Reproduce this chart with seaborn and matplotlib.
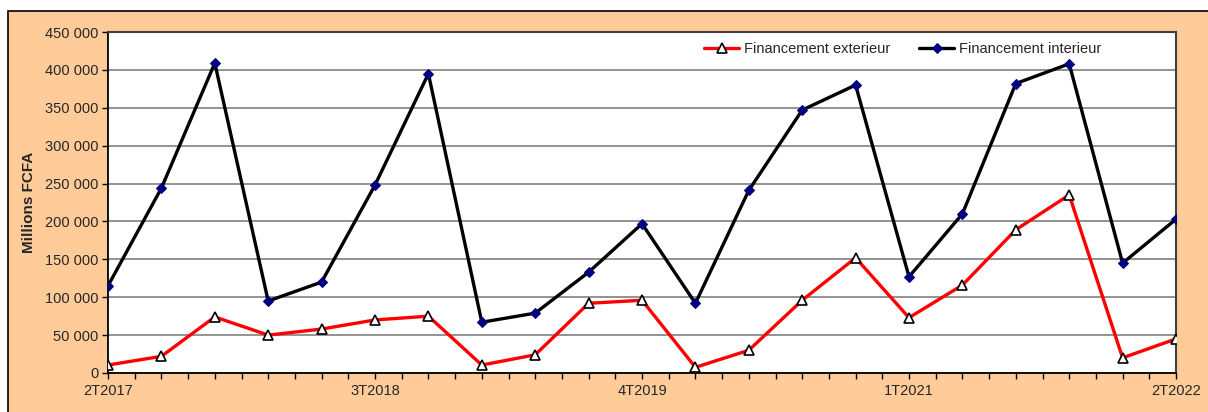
import numpy as np
import pandas as pd
import seaborn as sns
import matplotlib.pyplot as plt
from matplotlib.patches import Rectangle
from matplotlib.ticker import FuncFormatter, MultipleLocator

# Données (millions FCFA), trimestres 2T2017 -> 2T2022
trimestres = ['2T2017', '3T2017', '4T2017', '1T2018', '2T2018', '3T2018', '4T2018',
              '1T2019', '2T2019', '3T2019', '4T2019', '1T2020', '2T2020', '3T2020',
              '4T2020', '1T2021', '2T2021', '3T2021', '4T2021', '1T2022', '2T2022']
fin_exterieur = [10500, 22000, 74000, 50000, 58000, 70000, 75000, 10500, 24000, 92000,
                 96000, 7500, 30000, 96000, 152000, 73000, 116000, 189000, 235000, 20000, 45000]
fin_interieur = [115000, 244000, 409000, 95000, 120000, 248000, 395000, 67000, 79000, 133000,
                 197000, 92000, 241000, 347000, 380000, 127000, 210000, 382000, 408000, 145000, 203000]

df = pd.DataFrame({
    'pos': np.arange(len(trimestres)),
    'trimestre': trimestres,
    'Financement exterieur': fin_exterieur,
    'Financement interieur': fin_interieur,
})

sns.set_style('white')
plt.rcParams['font.family'] = ['Liberation Sans', 'DejaVu Sans']

fig = plt.figure(figsize=(12.08, 4.12), dpi=100)
fig.patch.set_facecolor('white')
fig.patches.append(Rectangle((8 / 1208, -0.01), 1.1, 1 - 11 / 412 + 0.01,
                             transform=fig.transFigure, facecolor='#FFCC99',
                             edgecolor='black', linewidth=1.2, zorder=-10))

ax = fig.add_axes([108 / 1208, 39 / 412, 1068 / 1208, 341 / 412])
ax.set_facecolor('white')

sns.lineplot(data=df, x='pos', y='Financement exterieur', ax=ax, color='red', linewidth=2.4,
             marker='^', markersize=6.5, markerfacecolor='white', markeredgecolor='black',
             markeredgewidth=1.2, label='Financement exterieur', zorder=3)
sns.lineplot(data=df, x='pos', y='Financement interieur', ax=ax, color='black', linewidth=2.4,
             marker='D', markersize=5, markerfacecolor='#000080', markeredgecolor='#000080',
             label='Financement interieur', zorder=4)

ax.set_xlim(0, len(trimestres) - 1)
ax.set_ylim(0, 450000)
ax.yaxis.set_major_locator(MultipleLocator(50000))
ax.yaxis.set_major_formatter(FuncFormatter(lambda v, p: f'{int(v):,}'.replace(',', ' ')))
ax.grid(axis='y', color='#808080', linewidth=1.2)
ax.set_axisbelow(True)

ax.set_xticks(df['pos'])
ax.set_xticklabels([t if i % 5 == 0 else '' for i, t in enumerate(trimestres)])
ax.set_xticks(df['pos'][:-1] + 0.5, minor=True)
ax.tick_params(axis='x', which='both', direction='out', length=4, width=1, color='black',
               labelsize=10.5, pad=4, bottom=True)
ax.tick_params(axis='y', direction='out', length=4, width=1, color='black', labelsize=10.5,
               left=True, pad=3)

ax.set_xlabel('')
ax.set_ylabel('Millions FCFA', fontsize=11, fontweight='bold', labelpad=6)

for s in ['left', 'bottom']:
    ax.spines[s].set_color('black')
    ax.spines[s].set_linewidth(1.3)
for s in ['top', 'right']:
    ax.spines[s].set_color('#404040')
    ax.spines[s].set_linewidth(1.5)

ax.legend(loc='upper center', bbox_to_anchor=(0.744, 1.01), ncol=2, frameon=False,
          fontsize=10.5, handlelength=2.4, columnspacing=2.0, handletextpad=0.3)

fig.savefig('out.png', dpi=100, facecolor=fig.get_facecolor())
